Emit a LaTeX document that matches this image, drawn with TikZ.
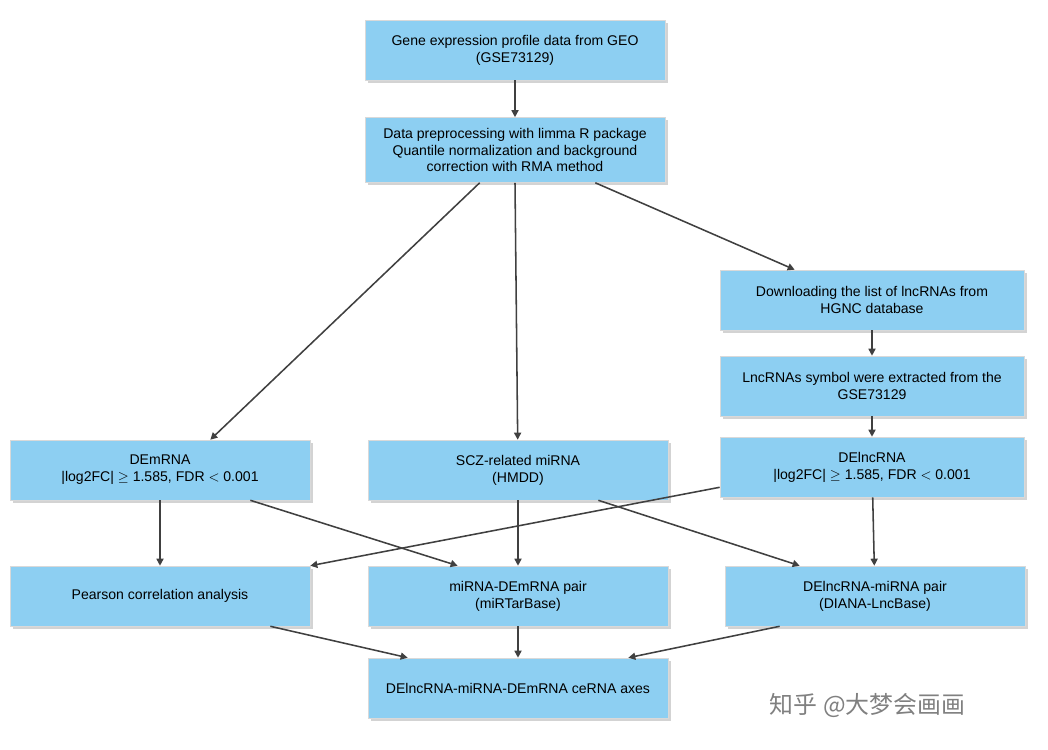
\documentclass[tikz,border=0pt]{standalone}
\usepackage{fontspec}
\setmainfont{Liberation Sans}
\newfontfamily\cjk{Noto Sans CJK SC}
\usetikzlibrary{arrows.meta,positioning,shadows}
\definecolor{boxblue}{HTML}{8DCFF2}

\tikzset{
  flowbox/.style={draw=white!70!gray,fill=boxblue,minimum width=7.5cm,minimum height=1.5cm,
    align=center,font=\fontsize{10}{12}\selectfont,drop shadow={shadow xshift=2pt,shadow yshift=-2pt,opacity=.35}},
  flowarrow/.style={-{Triangle[length=5pt,width=5pt]},draw=black!75,line width=1.1pt}
}

\begin{document}
\begin{tikzpicture}[x=0.025cm,y=-0.025cm]
\useasboundingbox (0,0) rectangle (1048,750);
% top
\node[flowbox] (geo) at (515,50) {Gene expression profile data from GEO\\(GSE73129)};
\node[flowbox,minimum height=1.625cm] (prep) at (515,150) {Data preprocessing with limma R package\\Quantile normalization and background\\correction with RMA method};
% right column
\node[flowbox,minimum width=7.6cm] (hgnc) at (872,300) {Downloading the list of lncRNAs from\\HGNC database};
\node[flowbox,minimum width=7.6cm] (symb) at (872,386) {LncRNAs symbol were extracted from the\\GSE73129};
\node[flowbox,minimum width=7.6cm] (delnc) at (872,467) {DElncRNA\\|log2FC| $\geq$ 1.585, FDR $<$ 0.001};
% middle row
\node[flowbox] (demrna) at (160,470) {DEmRNA\\|log2FC| $\geq$ 1.585, FDR $<$ 0.001};
\node[flowbox] (scz) at (518,470) {SCZ-related miRNA\\(HMDD)};
% pairs
\node[flowbox] (pears) at (160,596) {Pearson correlation analysis};
\node[flowbox] (mirpair) at (518,596) {miRNA-DEmRNA pair\\(miRTarBase)};
\node[flowbox] (lncpair) at (875,596) {DElncRNA-miRNA pair\\(DIANA-LncBase)};
\node[flowbox] (axes) at (518,688) {DElncRNA-miRNA-DEmRNA ceRNA axes};
\node[text=gray,font=\cjk\fontsize{17}{20}\selectfont,anchor=west] (mark) at (765,706) {知乎 @大梦会画画};

\coordinate (p1) at ([xshift=115*0.025cm]prep.south west);
\coordinate (p2) at ([xshift=-70*0.025cm]prep.south east);
\coordinate (d1) at ([xshift=-60*0.025cm]demrna.south east);
\coordinate (s1) at ([xshift=-70*0.025cm]scz.south east);
\coordinate (l1) at ([yshift=10*0.025cm]delnc.south west);
\coordinate (q1) at ([xshift=-40*0.025cm]pears.south east);
\coordinate (q2) at ([xshift=55*0.025cm]lncpair.south west);

\draw[flowarrow] (geo) -- (prep);
\draw[flowarrow] (p1) -- ([xshift=-100*0.025cm]demrna.north east);
\draw[flowarrow] (prep.south) -- (scz);
\draw[flowarrow] (p2) -- ([xshift=75*0.025cm]hgnc.north west);
\draw[flowarrow] (hgnc) -- (symb);
\draw[flowarrow] (symb) -- (delnc);
\draw[flowarrow] (demrna) -- (pears);
\draw[flowarrow] (d1) -- ([xshift=90*0.025cm]mirpair.north west);
\draw[flowarrow] (scz) -- (mirpair);
\draw[flowarrow] (s1) -- ([xshift=75*0.025cm]lncpair.north west);
\draw[flowarrow] (l1) -- (pears.north east);
\draw[flowarrow] (delnc) -- (lncpair);
\draw[flowarrow] (q1) -- ([xshift=40*0.025cm]axes.north west);
\draw[flowarrow] (mirpair) -- (axes);
\draw[flowarrow] (q2) -- ([xshift=-40*0.025cm]axes.north east);
\end{tikzpicture}
\end{document}
